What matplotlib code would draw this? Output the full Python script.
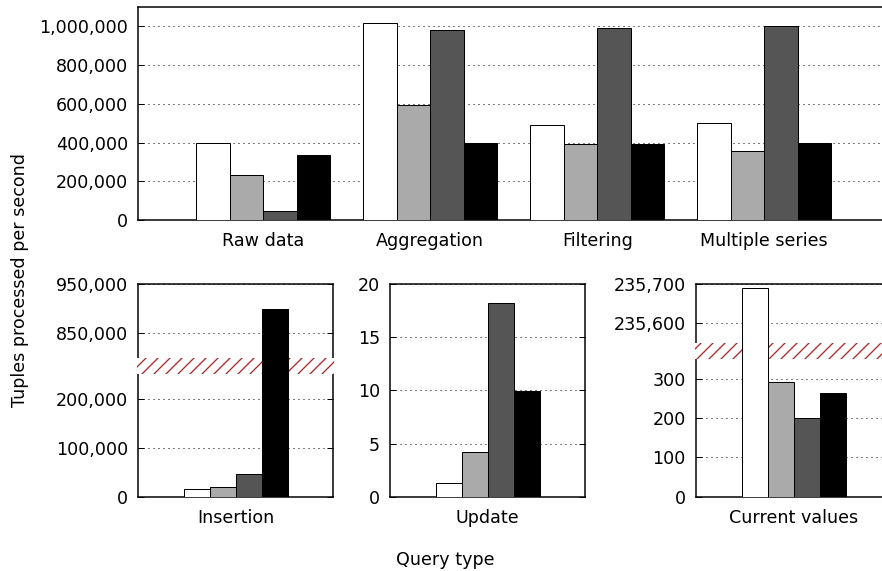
import numpy as np
import matplotlib
matplotlib.use("Agg")
import matplotlib.pyplot as plt
from matplotlib.patches import Rectangle
from matplotlib.ticker import FuncFormatter
from matplotlib.transforms import blended_transform_factory

# ---- data ----
top_groups = ["Raw data", "Aggregation", "Filtering", "Multiple series"]
top_white = [397000, 1015000, 491000, 502000]
top_light = [233000, 595000, 393000, 357000]
top_dark  = [47000, 981000, 992000, 1000000]
top_black = [336000, 400000, 393000, 400000]

insertion = [16300, 19000, 45500, 900000]
update    = [1.32, 4.17, 18.2, 9.94]
current   = [235690, 292, 200, 264]

ins_ticks = [0, 100000, 200000, 850000, 950000]
upd_ticks = [0, 5, 10, 15, 20]
cur_ticks = [0, 100, 200, 300, 235600, 235700]

COLS = ["white", "#aaaaaa", "#555555", "black"]
HATCH = "#a52a2a"
FS = 17.5
W, H = 882, 571
plt.rcParams["font.family"] = "DejaVu Sans"
plt.rcParams["hatch.linewidth"] = 1.3

fig = plt.figure(figsize=(W/72, H/72), dpi=72)
def box(x0, x1, y0, y1):  # pixel box -> fig axes
    return fig.add_axes([x0/W, 1-y1/H, (x1-x0)/W, (y1-y0)/H])

fmt = FuncFormatter(lambda v, p: f"{v:,.0f}")
def style(ax, right=True):
    for s in ax.spines.values(): s.set_linewidth(1.5)
    ax.set_axisbelow(True)
    ax.yaxis.grid(True, linestyle=(0, (1, 4)), color="black", lw=1)
    ax.tick_params(axis="y", direction="in", length=6, width=1, pad=10, labelsize=FS, right=right)
    ax.tick_params(axis="x", length=0, pad=12, labelsize=FS)
    ax.yaxis.set_major_formatter(fmt)

def broken(ax, lo, hi, gap):
    xs = [-1e12, lo, hi, 1e12]; ys = [-1e12, lo, lo+gap, 1e12-hi+lo+gap]
    ax.set_yscale("function", functions=(lambda v: np.interp(v, xs, ys), lambda v: np.interp(v, ys, xs)))
    tr = blended_transform_factory(ax.transAxes, ax.transData)
    ax.add_patch(Rectangle((-0.006, lo), 1.012, hi-lo, transform=tr, facecolor="white",
                           edgecolor=HATCH, hatch="//", lw=0, zorder=2.7, clip_on=False))

# ---- top panel ----
ax = box(138, 889.5, 7, 220)
x = np.arange(len(top_groups))
for i, (v, c) in enumerate(zip([top_white, top_light, top_dark, top_black], COLS)):
    ax.bar(x + (i-1.5)*0.2, v, 0.2, color=c, edgecolor="black", lw=1, zorder=3)
ax.set_xlim(-0.75, 3.75); ax.set_ylim(0, 1100000)
ax.set_yticks(range(0, 1000001, 200000))
ax.set_xticks(x, top_groups)
style(ax, right=False)
ax.spines["right"].set_visible(False)

# ---- bottom panels ----
panels = [("Insertion", insertion, ins_ticks, 138, (250000, 800000, 33700), 950000),
          ("Update", update, upd_ticks, 390, None, 20),
          ("Current values", current, cur_ticks, 696, (350, 235550, 42.6), 235700)]
for name, vals, ticks, x0, brk, top in panels:
    ax = box(x0, x0+195, 284, 496.7)
    if brk: broken(ax, *brk)
    for i, (v, c) in enumerate(zip(vals, COLS)):
        ax.bar((i-1.5)*0.2, v, 0.2, color=c, edgecolor="black", lw=1, zorder=3)
    ax.set_xlim(-0.75, 0.75); ax.set_ylim(0, top)
    ax.set_yticks(ticks); ax.set_xticks([0], [name])
    style(ax)

fig.text(20/W, 1-280/H, "Tuples processed per second", rotation=90, ha="center", va="center", fontsize=FS)
fig.text(445/W, 1-565/H, "Query type", ha="center", va="baseline", fontsize=FS)
fig.savefig("out.png", dpi=72)
